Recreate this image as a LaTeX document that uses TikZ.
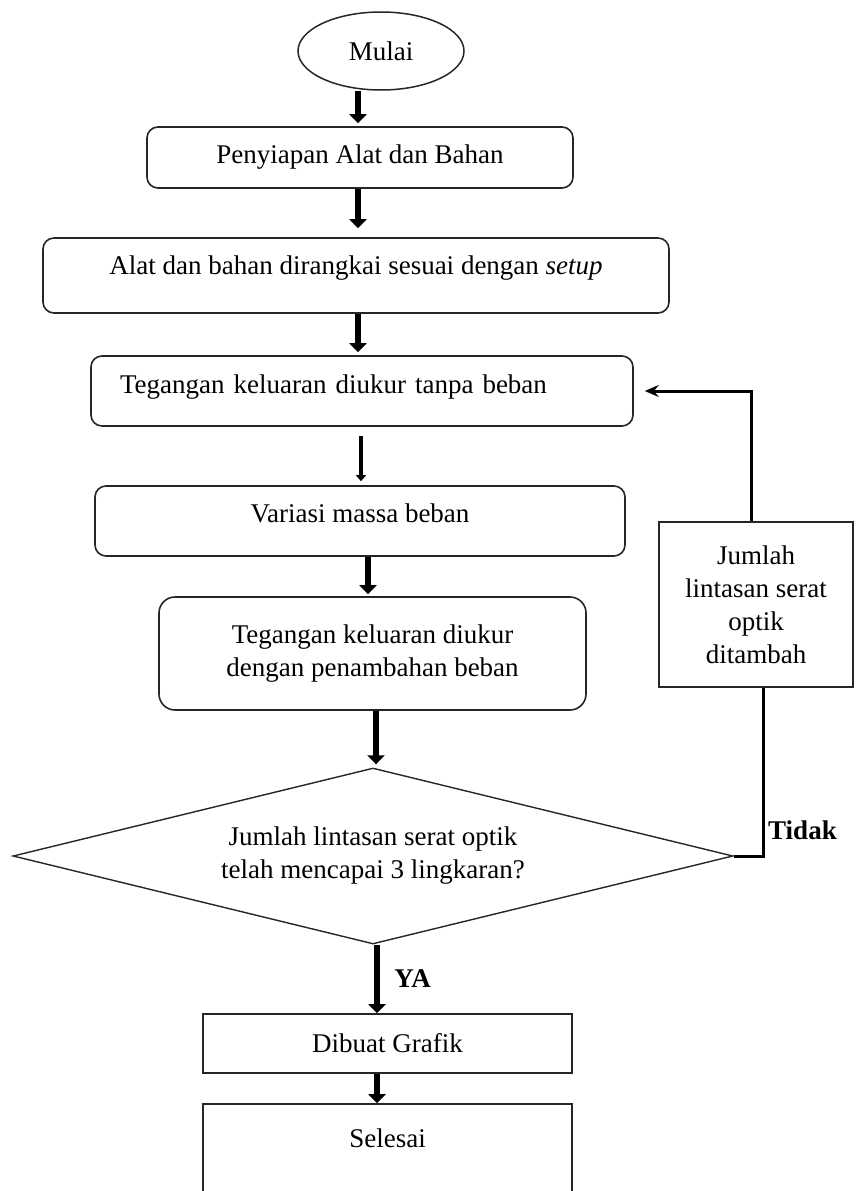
\documentclass[tikz,border=0pt]{standalone}
\usepackage{fontspec}
\setmainfont{Liberation Serif}
\usetikzlibrary{shapes.geometric, arrows.meta, positioning, calc}
\newcommand{\boxfont}{\fontsize{27}{33}\selectfont}
\tikzset{
  startstop/.style={ellipse, draw=black!85, line width=1.5pt,
    font=\boxfont, inner sep=0pt},
  procbox/.style={rectangle, draw=black!85, line width=1.6pt,
    rounded corners=11pt, align=center, font=\boxfont, inner sep=0pt},
  plainbox/.style={rectangle, draw=black!85, line width=1.6pt,
    align=center, font=\boxfont, inner sep=0pt},
  decision/.style={diamond, draw=black!85, line width=1.4pt, aspect=4,
    align=center, font=\boxfont, inner sep=0pt},
  lbl/.style={font=\boxfont\bfseries, inner sep=0pt},
  bigarrow/.style={-{Triangle[width=17pt,length=9pt]}, line width=6.5pt},
  thinarrow/.style={-{Triangle[width=10pt,length=6pt]}, line width=3.5pt},
  loopline/.style={line width=3pt},
  looparrow/.style={-{Stealth[width=12pt,length=14pt,inset=5pt]}, line width=3pt}
}
\begin{document}
\begin{tikzpicture}[x=1pt, y=-1pt]
  \useasboundingbox (0,0) rectangle (855,1191);
  \node[startstop, minimum width=166pt, minimum height=78pt] (mulai) at (381,51) {Mulai};
  \node[procbox, minimum width=426pt, minimum height=61pt] (siap) at (360,157.5) {Penyiapan Alat dan Bahan};
  \node[procbox, minimum width=626pt, minimum height=75pt, text depth=20pt] (rangkai) at (356,275.5) {Alat dan bahan dirangkai sesuai dengan \textit{setup}};
  \node[procbox, minimum width=542pt, minimum height=70pt, text width=484pt, align=left, text depth=14pt] (tanpa) at (362,391) {Tegangan keluaran diukur tanpa beban};
  \node[procbox, minimum width=530pt, minimum height=70pt, text depth=16pt] (variasi) at (360,521) {Variasi massa beban};
  \node[procbox, rounded corners=16pt, minimum width=427pt, minimum height=113pt] (dengan) at (372.5,653.5) {Tegangan keluaran diukur\\dengan penambahan beban};
  \node[decision, minimum width=720pt, minimum height=176pt] (cek) at (373,856) {Jumlah lintasan serat optik\\telah mencapai 3 lingkaran?};
  \node[plainbox, minimum width=194pt, minimum height=165pt] (tambah) at (756,604.5) {Jumlah\\lintasan serat\\optik\\ditambah};
  \node[plainbox, minimum width=369pt, minimum height=59pt] (grafik) at (387.5,1043.5) {Dibuat Grafik};
  \node[plainbox, minimum width=369pt, minimum height=92pt, text depth=24pt] (selesai) at (387.5,1150) {Selesai};
  % alur utama
  \draw[bigarrow, shorten >=3pt] ([xshift=-23pt]mulai.south) -- ([xshift=-2pt]siap.north);
  \draw[bigarrow, shorten >=9pt] ([xshift=-2pt]siap.south) -- ([xshift=2pt]rangkai.north);
  \draw[bigarrow, shorten >=3pt] ([xshift=2pt]rangkai.south) -- ([xshift=-4pt]tanpa.north);
  \draw[thinarrow, shorten <=9pt, shorten >=4pt] ([xshift=-1pt]tanpa.south) -- ([xshift=1pt]variasi.north);
  \draw[bigarrow, shorten >=2pt] ([xshift=8pt]variasi.south) -- ([xshift=-4.5pt]dengan.north);
  \draw[bigarrow, shorten >=3pt] ([xshift=3.5pt]dengan.south) -- ([xshift=3pt]cek.north);
  \draw[bigarrow] ([xshift=4pt]cek.south) -- ([xshift=-10.5pt]grafik.north)
    node[lbl, midway, right=14pt] (ya) {YA};
  \draw[bigarrow] ([xshift=-10.5pt]grafik.south) -- ([xshift=-10.5pt]selesai.north);
  % putaran balik
  \coordinate (belok) at (763,856);
  \draw[loopline] (cek.east) -- (belok) -- (belok |- tambah.south);
  \draw[looparrow, shorten >=11pt] ([xshift=-5pt]tambah.north) |- (tanpa.east);
  \node[lbl, anchor=west] (tidak) at (768,830) {Tidak};
\end{tikzpicture}
\end{document}
